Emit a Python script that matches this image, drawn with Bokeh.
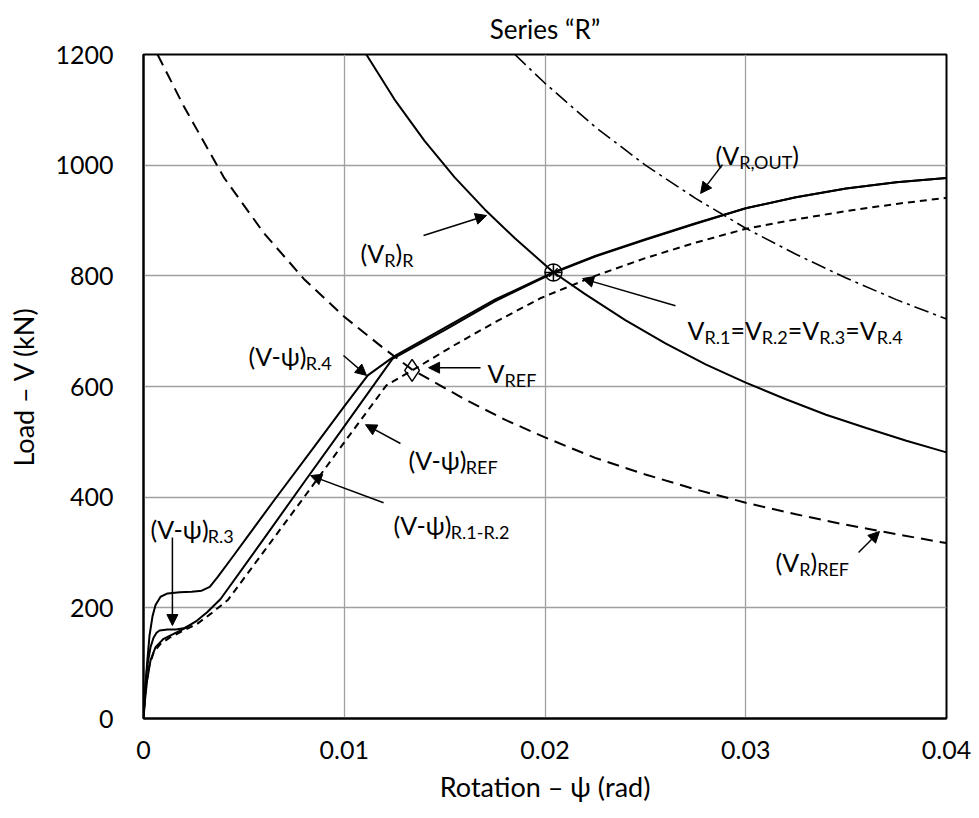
import subprocess
from bokeh.plotting import figure
from bokeh.models import (Range1d, FixedTicker, NumeralTickFormatter, Arrow, NormalHead,
                          ColumnDataSource)
from bokeh.embed import file_html
from bokeh.resources import INLINE
from bokeh.core.properties import value

FONT = "Lato"
TITLE = "Series \u201cR\u201d"

# ---------------- data ----------------
X_TICKS = [0, 0.01, 0.02, 0.03, 0.04]
Y_TICKS = [0, 200, 400, 600, 800, 1000, 1200]

# load-rotation curve (V-psi)_R.4
psi_r4 = [0, 0.00008, 0.00018, 0.0003, 0.00045, 0.0006, 0.00085, 0.0012, 0.0018, 0.0024, 0.0029,
          0.0033, 0.0037, 0.0045, 0.0065, 0.0085, 0.0100, 0.01117, 0.0125, 0.0150, 0.0175, 0.0204,
          0.0225, 0.025, 0.0275, 0.030, 0.0325, 0.035, 0.0375, 0.040]
v_r4 = [0, 50, 100, 150, 185, 205, 220, 226, 228, 229, 231,
        238, 256, 295, 394, 491, 564, 620, 655, 706, 757, 806,
        836, 866, 895, 922, 942, 958, 969, 977]

# load-rotation curve (V-psi)_R.3 (joins R.1-R.2 after its plateau)
psi_r3 = [0, 0.00006, 0.00018, 0.00035, 0.0005, 0.00065, 0.0008, 0.0012, 0.0016, 0.002, 0.0024]
v_r3 = [0, 45, 93, 129, 146, 155, 159, 161, 161, 163, 170]

# load-rotation curve (V-psi)_R.1-R.2
psi_r12 = [0, 0.00008, 0.00018, 0.00035, 0.0006, 0.001, 0.0015, 0.002, 0.00267, 0.00317, 0.00384,
           0.006, 0.008, 0.010, 0.0124, 0.015, 0.0175, 0.0204, 0.0225, 0.025, 0.0275, 0.030,
           0.0325, 0.035, 0.0375, 0.040]
v_r12 = [0, 35, 69, 105, 129, 144, 153, 162, 177, 192, 216,
         325, 427, 528, 650, 702, 754, 805, 835, 865, 894, 922,
         942, 958, 969, 977]

# load-rotation curve (V-psi)_REF
psi_ref = [0, 0.0001, 0.00027, 0.00051, 0.00085, 0.00134, 0.002, 0.00267, 0.00334, 0.0042, 0.006,
           0.008, 0.010, 0.0121, 0.01338, 0.0155, 0.0175, 0.0198, 0.0225, 0.025, 0.0275, 0.030,
           0.0325, 0.035, 0.0375, 0.040]
v_ref = [0, 51, 93, 120, 135, 147, 159, 171, 189, 214, 302,
         400, 499, 602, 629, 675, 716, 760, 800, 832, 860, 885,
         902, 917, 930, 941]

# failure criterion (V_R)_R
psi_vr_r = [0.0111, 0.0125, 0.014, 0.0155, 0.017, 0.0185, 0.0204, 0.022, 0.024, 0.026, 0.028,
            0.030, 0.032, 0.034, 0.036, 0.038, 0.040]
v_vr_r = [1200, 1119, 1044, 978, 920, 868, 807, 767, 720, 678, 640,
          607, 577, 549, 525, 502, 481]

# failure criterion (V_R)_REF
psi_vr_ref = [0.0007, 0.002, 0.004, 0.006, 0.008, 0.010, 0.012, 0.0134, 0.016, 0.018, 0.020,
              0.0225, 0.025, 0.0275, 0.030, 0.0325, 0.035, 0.0375, 0.040]
v_vr_ref = [1200, 1107, 978, 877, 794, 726, 668, 630, 577, 540, 508,
            471, 441, 414, 390, 369, 350, 333, 317]

# failure criterion (V_R,OUT)
psi_vr_out = [0.0185, 0.020, 0.0225, 0.025, 0.0275, 0.030, 0.0325, 0.035, 0.0375, 0.040]
v_vr_out = [1200, 1148, 1069, 1000, 940, 886, 839, 796, 757, 722]

# marked points
psi_vref_pt = [0.01338]
v_vref_pt = [629]
psi_int_pt = [0.02042]
v_int_pt = [806]

# ---------------- annotations (anchor psi, V; parts: (text, is_subscript)) ----------------
LABELS = [
    (0.01081, 842, [("(V", False), ("R", True), (")", False), ("R", True)]),
    (0.02849, 1018, [("(V", False), ("R,OUT", True), (")", False)]),
    (0.0271, 703, [("V", False), ("R.1", True), ("=V", False), ("R.2", True), ("=V", False),
                   ("R.3", True), ("=V", False), ("R.4", True)]),
    (0.01714, 625, [("V", False), ("REF", True)]),
    (0.00523, 656, [("(V-\u03c8)", False), ("R.4", True)]),
    (0.0132, 468, [("(V-\u03c8)", False), ("REF", True)]),
    (0.01245, 349, [("(V-\u03c8)", False), ("R.1-R.2", True)]),
    (0.00035, 343, [("(V-\u03c8)", False), ("R.3", True)]),
    (0.03148, 282, [("(V", False), ("R", True), (")", False), ("REF", True)]),
]
ARROWS = [  # (psi_start, V_start, psi_end, V_end)
    (0.01395, 873, 0.01709, 909),
    (0.02884, 1001, 0.02775, 949),
    (0.0265, 746, 0.02187, 795),
    (0.01679, 634, 0.0142, 634),
    (0.00996, 656, 0.01111, 620),
    (0.0128, 497, 0.01106, 531),
    (0.01196, 390, 0.00832, 439),
    (0.00144, 327, 0.00144, 168),
    (0.03562, 300, 0.03666, 338),
]

MAIN_PX = 25
SUB_PX = 18
SUB_DROP_PX = 7

W, H = 979, 818
B_LEFT, B_RIGHT, B_TOP, B_BOTTOM = 143, 33, 54, 100
FRAME_W = W - B_LEFT - B_RIGHT
FRAME_H = H - B_TOP - B_BOTTOM
PSI_PER_PX = (X_TICKS[-1] - X_TICKS[0]) / FRAME_W
KN_PER_PX = (Y_TICKS[-1] - Y_TICKS[0]) / FRAME_H


def _font_path(name):
    try:
        out = subprocess.run(["fc-match", "-f", "%{file}", name], capture_output=True,
                             text=True, timeout=5).stdout.strip()
        return out or None
    except Exception:
        return None


_FP = _font_path(FONT)
_FONTS = {}


def text_width(s, size):
    try:
        from PIL import ImageFont
        if size not in _FONTS:
            _FONTS[size] = ImageFont.truetype(_FP, size)
        return _FONTS[size].getlength(s)
    except Exception:
        return 0.55 * size * len(s)


p = figure(width=W, height=H, x_range=Range1d(X_TICKS[0], X_TICKS[-1]),
           y_range=Range1d(Y_TICKS[0], Y_TICKS[-1]),
           output_backend="svg", toolbar_location=None,
           min_border_left=B_LEFT, min_border_right=B_RIGHT,
           min_border_top=0, min_border_bottom=B_BOTTOM,
           title=TITLE)

p.title.align = "center"
p.title.text_font = FONT
p.title.text_font_size = "26px"
p.title.text_font_style = "normal"
p.title.text_color = "black"
p.title.standoff = 20

p.outline_line_color = "black"
p.outline_line_width = 2
p.background_fill_color = "white"
p.border_fill_color = "white"

p.xaxis.ticker = FixedTicker(ticks=X_TICKS)
p.xaxis.formatter = NumeralTickFormatter(format="0.[00]")
p.yaxis.ticker = FixedTicker(ticks=Y_TICKS)

for ax in (p.xaxis, p.yaxis):
    ax.axis_line_color = "black"
    ax.axis_line_width = 2
    ax.major_tick_line_color = None
    ax.minor_tick_line_color = None
    ax.major_label_text_font = FONT
    ax.major_label_text_font_size = "25px"
    ax.major_label_text_color = "black"
    ax.axis_label_text_font = FONT
    ax.axis_label_text_font_size = "27px"
    ax.axis_label_text_font_style = "normal"
    ax.axis_label_text_color = "black"

p.xaxis.axis_label = "Rotation \u2013 \u03c8 (rad)"
p.yaxis.axis_label = "Load \u2013 V (kN)"
p.xaxis.major_label_standoff = 16
p.yaxis.major_label_standoff = 24
p.xaxis.axis_label_standoff = 8
p.yaxis.axis_label_standoff = 12

p.xgrid.ticker = FixedTicker(ticks=X_TICKS)
p.ygrid.ticker = FixedTicker(ticks=Y_TICKS)
p.grid.grid_line_color = "#a0a0a0"
p.grid.grid_line_width = 1.3

# curves
p.line(psi_vr_ref, v_vr_ref, line_color="black", line_width=2, line_dash="12 7")
p.line(psi_vr_out, v_vr_out, line_color="black", line_width=1.6, line_dash="15 5 3 5")
p.line(psi_vr_r, v_vr_r, line_color="black", line_width=2)
p.line(psi_ref, v_ref, line_color="black", line_width=2, line_dash="7 5")
p.line(psi_r12, v_r12, line_color="black", line_width=2)
p.line(psi_r3, v_r3, line_color="black", line_width=2)
p.line(psi_r4, v_r4, line_color="black", line_width=2)

# markers
p.scatter(psi_vref_pt, v_vref_pt, marker="diamond", size=22, fill_color=None,
          line_color="black", line_width=1.5)
p.scatter(psi_int_pt, v_int_pt, marker="circle_cross", size=17, fill_color=None,
          line_color="black", line_width=1.5)
p.scatter(psi_int_pt, v_int_pt, marker="x", size=12, line_color="black", line_width=1.2)

# arrows
for x0, y0, x1, y1 in ARROWS:
    p.add_layout(Arrow(end=NormalHead(size=11, fill_color="black", line_color="black", line_width=1),
                       x_start=x0, y_start=y0, x_end=x1, y_end=y1,
                       line_color="black", line_width=1.5))

# rich labels
main_rows = dict(x=[], y=[], text=[])
sub_rows = dict(x=[], y=[], text=[])
for lx, ly, parts in LABELS:
    cur = 0.0
    for s, is_sub in parts:
        if is_sub:
            sub_rows["x"].append(lx + cur * PSI_PER_PX)
            sub_rows["y"].append(ly - SUB_DROP_PX * KN_PER_PX)
            sub_rows["text"].append(s)
            cur += text_width(s, SUB_PX)
        else:
            main_rows["x"].append(lx + cur * PSI_PER_PX)
            main_rows["y"].append(ly)
            main_rows["text"].append(s)
            cur += text_width(s, MAIN_PX)

p.text(x="x", y="y", text="text", source=ColumnDataSource(main_rows),
       text_font=value(FONT), text_font_size=f"{MAIN_PX}px", text_color="black",
       text_align="left", text_baseline="alphabetic")
p.text(x="x", y="y", text="text", source=ColumnDataSource(sub_rows),
       text_font=value(FONT), text_font_size=f"{SUB_PX}px", text_color="black",
       text_align="left", text_baseline="alphabetic")

open("out.html", "w").write(file_html(p, INLINE))
